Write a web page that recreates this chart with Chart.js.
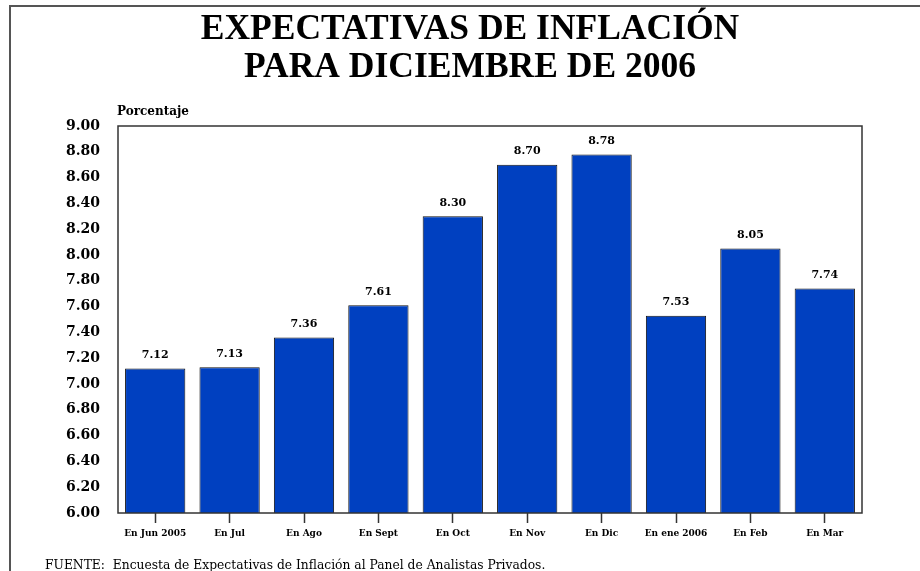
<!DOCTYPE html>
<html>
<head>
<meta charset="utf-8">
<script src="https://cdn.jsdelivr.net/npm/chart.js@4/dist/chart.umd.min.js"></script>
<style>
  html, body { margin: 0; padding: 0; background: #fff; }
  #wrap { width: 920px; height: 571px; position: relative; }
</style>
</head>
<body>
<div id="wrap"><canvas id="inflChart"></canvas></div>
<script>
const months = ['En Jun 2005', 'En Jul', 'En Ago', 'En Sept', 'En Oct', 'En Nov', 'En Dic', 'En ene 2006', 'En Feb', 'En Mar'];
const expectativas = [7.12, 7.13, 7.36, 7.61, 8.30, 8.70, 8.78, 7.53, 8.05, 7.74];
const titleLines = ['EXPECTATIVAS DE INFLACIÓN', 'PARA DICIEMBRE DE 2006'];
const yLabel = 'Porcentaje';
const fuente = 'FUENTE:  Encuesta de Expectativas de Inflación al Panel de Analistas Privados.';

// frame, title, plot box, value labels and footnote
const extras = {
  id: 'extras',
  beforeDraw(chart) {
    const ctx = chart.ctx;
    ctx.save();
    ctx.fillStyle = '#fff';
    ctx.fillRect(0, 0, chart.width, chart.height);
    ctx.strokeStyle = '#555';
    ctx.lineWidth = 2;
    ctx.beginPath();
    ctx.moveTo(10, chart.height);
    ctx.lineTo(10, 6);
    ctx.lineTo(chart.width, 6);
    ctx.stroke();

    ctx.fillStyle = '#000';
    ctx.font = 'bold 35.5px "Liberation Serif"';
    ctx.textAlign = 'center';
    ctx.textBaseline = 'middle';
    ctx.fillText(titleLines[0], 470, 30);
    ctx.fillText(titleLines[1], 470, 68);
    ctx.restore();
  },
  afterDraw(chart) {
    const ctx = chart.ctx;
    const a = chart.chartArea;
    ctx.save();
    ctx.strokeStyle = '#333';
    ctx.lineWidth = 1.5;
    ctx.strokeRect(a.left, a.top, a.right - a.left, a.bottom - a.top);

    ctx.fillStyle = '#000';
    ctx.font = 'bold 12px "DejaVu Serif"';
    ctx.textAlign = 'left';
    ctx.textBaseline = 'middle';
    ctx.fillText(yLabel, 117, 112);

    ctx.font = 'bold 11px "DejaVu Serif"';
    ctx.textAlign = 'center';
    ctx.textBaseline = 'bottom';
    chart.getDatasetMeta(0).data.forEach((bar, i) => {
      ctx.fillText(expectativas[i].toFixed(2), bar.x, bar.y - 8);
    });

    ctx.font = '12.3px "DejaVu Serif"';
    ctx.textAlign = 'left';
    ctx.textBaseline = 'alphabetic';
    ctx.fillText(fuente, 45, 569);
    ctx.restore();
  }
};

new Chart(document.getElementById('inflChart').getContext('2d'), {
  type: 'bar',
  data: {
    labels: months,
    datasets: [{
      data: expectativas,
      backgroundColor: '#0040C0',
      borderColor: '#111',
      borderWidth: 1,
      barPercentage: 0.81,
      categoryPercentage: 1
    }]
  },
  options: {
    responsive: true,
    maintainAspectRatio: false,
    animation: false,
    layout: { padding: { left: 0, right: 58, top: 126, bottom: 0 } },
    plugins: {
      legend: { display: false },
      tooltip: { enabled: false },
      title: { display: false }
    },
    scales: {
      x: {
        offset: true,
        grid: { display: true, offset: false, drawOnChartArea: false, drawTicks: true, tickLength: 10, tickColor: '#333', tickWidth: 1.5 },
        border: { display: false },
        ticks: { color: '#000', font: { family: '"DejaVu Serif"', size: 9, weight: 'bold' }, padding: 5, maxRotation: 0, autoSkip: false },
        afterFit(scale) { scale.height = 58; }
      },
      y: {
        min: 6,
        max: 9,
        grid: { display: false, drawTicks: false },
        border: { display: false },
        ticks: {
          stepSize: 0.2,
          color: '#000',
          padding: 18,
          font: { family: '"DejaVu Serif"', size: 14, weight: 'bold' },
          callback: v => Number(v).toFixed(2)
        },
        afterFit(scale) { scale.width = 118; }
      }
    }
  },
  plugins: [extras]
});
</script>
</body>
</html>
